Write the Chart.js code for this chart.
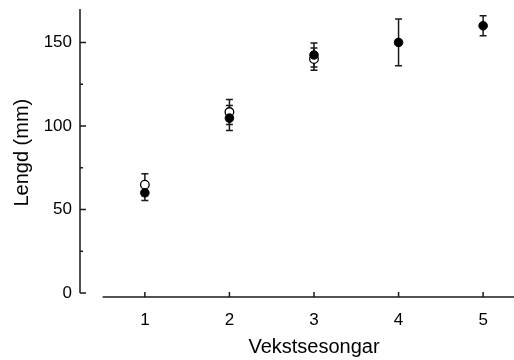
<!DOCTYPE html>
<html>
<head>
<meta charset="utf-8">
<script src="https://cdn.jsdelivr.net/npm/chart.js@4"></script>
<style>
  html, body { margin: 0; padding: 0; background: #fff; }
  #wrap { width: 514px; height: 360px; }
</style>
</head>
<body>
<div id="wrap"><canvas id="myChart" width="514" height="360"></canvas></div>
<script>
// seasons (x) and mean length in mm (y), with +/- error
const seasons = [1, 2, 3, 4, 5];
const filledMean = [60, 104.7, 142.5, 150, 160];
const filledErr = [4.6, 7.5, 7.2, 14, 6];

const openSeasons = [1, 2, 3];
const openMean = [64.8, 108.3, 140];
const openErr = [6.6, 7.5, 6.6];

const yTicks = [0, 50, 100, 150];
const yMinorTicks = [25, 75, 125];
const xTicks = [1, 2, 3, 4, 5];

const xTitle = "Vekstsesongar";
const yTitle = "Lengd (mm)";

const axisColor = "#1a1a1a";
const font = "Liberation Sans, Arial, sans-serif";

const toPoints = (xs, ys, errs) =>
  xs.map((x, i) => ({ x: x, y: ys[i], err: errs[i] }));

// error bars, axes and titles drawn with the chart's scales
const extras = {
  id: "extras",
  beforeDatasetsDraw: (chart) => {
    const { ctx, scales } = chart;
    const x = scales.x;
    const y = scales.y;
    ctx.save();
    ctx.strokeStyle = axisColor;
    ctx.lineWidth = 1.5;
    chart.data.datasets.forEach((ds) => {
      ds.data.forEach((p) => {
        const px = x.getPixelForValue(p.x);
        const top = y.getPixelForValue(p.y + p.err);
        const bot = y.getPixelForValue(p.y - p.err);
        ctx.beginPath();
        ctx.moveTo(px, top);
        ctx.lineTo(px, bot);
        ctx.moveTo(px - 3.5, top);
        ctx.lineTo(px + 3.5, top);
        ctx.moveTo(px - 3.5, bot);
        ctx.lineTo(px + 3.5, bot);
        ctx.stroke();
      });
    });
    ctx.restore();
  },
  afterDraw: (chart) => {
    const { ctx, scales, chartArea } = chart;
    const x = scales.x;
    const y = scales.y;
    ctx.save();
    ctx.strokeStyle = axisColor;
    ctx.lineWidth = 1.5;

    // y axis
    const ax = chartArea.left;
    ctx.beginPath();
    ctx.moveTo(ax, chartArea.top);
    ctx.lineTo(ax, y.getPixelForValue(0));
    yTicks.forEach((v) => {
      const py = y.getPixelForValue(v);
      ctx.moveTo(ax, py);
      ctx.lineTo(ax + 6, py);
    });
    yMinorTicks.forEach((v) => {
      const py = y.getPixelForValue(v);
      ctx.moveTo(ax, py);
      ctx.lineTo(ax + 3, py);
    });
    ctx.stroke();

    // x axis
    const ay = chartArea.bottom;
    ctx.beginPath();
    ctx.moveTo(x.getPixelForValue(0.5), ay);
    ctx.lineTo(chart.width, ay);
    xTicks.forEach((v) => {
      const px = x.getPixelForValue(v);
      ctx.moveTo(px, ay);
      ctx.lineTo(px, ay - 5);
    });
    ctx.stroke();

    // titles
    ctx.fillStyle = "#000";
    ctx.font = "20px " + font;
    ctx.textAlign = "center";
    ctx.textBaseline = "alphabetic";
    ctx.fillText(xTitle, x.getPixelForValue(3), 353);
    ctx.translate(28, y.getPixelForValue(84));
    ctx.rotate(-Math.PI / 2);
    ctx.fillText(yTitle, 0, 0);
    ctx.restore();
  }
};

const ctx = document.getElementById("myChart");
const myChart = new Chart(ctx, {
  type: "scatter",
  data: {
    datasets: [
      {
        label: "filled",
        data: toPoints(seasons, filledMean, filledErr),
        pointRadius: 4.3,
        pointBackgroundColor: "#000",
        pointBorderColor: "#000",
        pointBorderWidth: 1,
        order: 0
      },
      {
        label: "open",
        data: toPoints(openSeasons, openMean, openErr),
        pointRadius: 4.3,
        pointBackgroundColor: "#fff",
        pointBorderColor: "#000",
        pointBorderWidth: 1.3,
        order: 1
      }
    ]
  },
  options: {
    responsive: false,
    animation: false,
    layout: { padding: { top: 9, left: 0, right: 0, bottom: 0 } },
    plugins: {
      legend: { display: false },
      tooltip: { enabled: false }
    },
    scales: {
      x: {
        type: "linear",
        min: 0.233,
        max: 5.299,
        afterFit: (s) => { s.height = 63; },
        afterBuildTicks: (s) => { s.ticks = xTicks.map((v) => ({ value: v })); },
        grid: { display: false, drawTicks: false },
        border: { display: false },
        ticks: {
          padding: 13,
          color: "#000",
          font: { family: font, size: 17 }
        }
      },
      y: {
        min: -2.4,
        max: 170,
        afterFit: (s) => {
          s.width = 80;
          s.paddingTop = 0;
          s.paddingBottom = 0;
        },
        afterBuildTicks: (s) => { s.ticks = yTicks.map((v) => ({ value: v })); },
        grid: { display: false, drawTicks: false },
        border: { display: false },
        ticks: {
          padding: 8,
          color: "#000",
          font: { family: font, size: 17 }
        }
      }
    }
  },
  plugins: [extras]
});
</script>
</body>
</html>
